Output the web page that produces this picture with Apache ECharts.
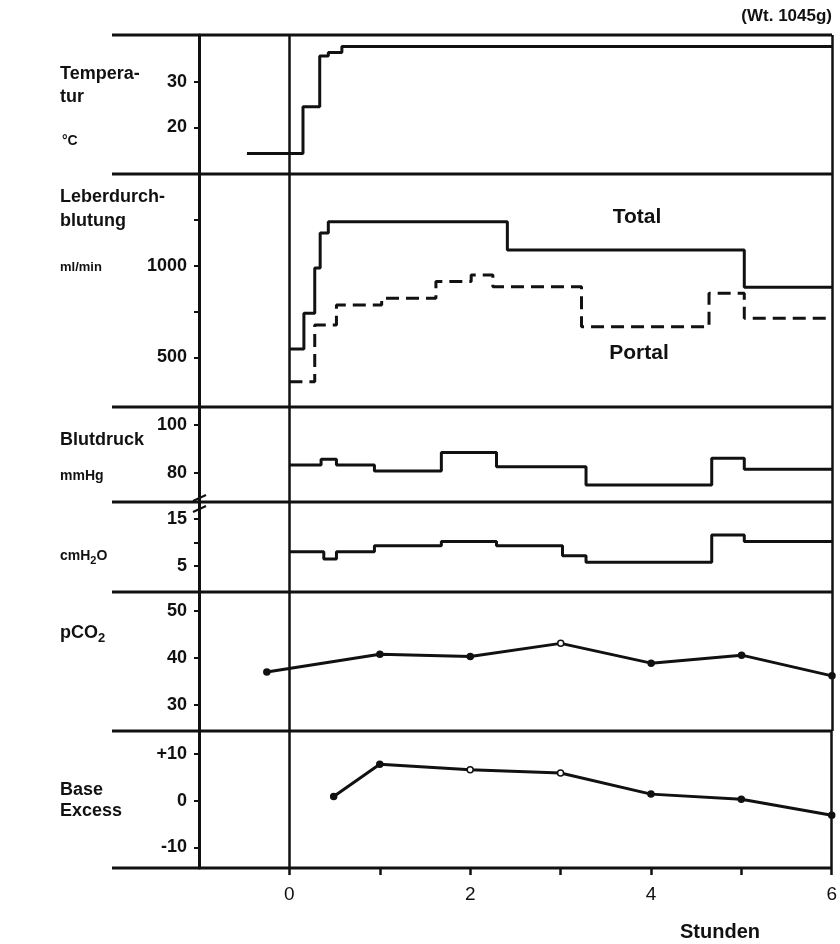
<!DOCTYPE html>
<html>
<head>
<meta charset="utf-8">
<script src="https://cdn.jsdelivr.net/npm/echarts@6/dist/echarts.min.js"></script>
<style>
  html, body { margin: 0; padding: 0; background: #fff; }
  #chart { width: 840px; height: 944px; }
</style>
</head>
<body>
<div id="chart"></div>
<script>
// Zeit in Stunden, Werte je Messgröße
const tempHours = [-0.47, 0.15, 0.335, 0.43, 0.58, 6]
const tempValues = [14.3, 24.5, 35.6, 36.4, 37.7, 37.7]

const totalHours = [0, 0.16, 0.28, 0.34, 0.43, 2.41, 5.03, 6]
const totalValues = [545, 740, 987, 1178, 1240, 1086, 882, 882]

const portalHours = [0, 0.28, 0.52, 1.02, 1.62, 2.01, 2.25, 3.23, 4.64, 5.03, 6]
const portalValues = [367, 676, 785, 822, 913, 949, 885, 667, 849, 713, 713]

const bpHours = [0, 0.35, 0.52, 0.94, 1.68, 2.29, 3.28, 4.67, 5.03, 6]
const bpValues = [83.2, 85.6, 83.2, 80.7, 88.4, 82.5, 74.8, 86.0, 81.4, 81.4]

const cvpHours = [0, 0.38, 0.52, 0.94, 1.68, 2.29, 3.02, 3.28, 4.67, 5.03, 6]
const cvpValues = [8.0, 6.5, 8.0, 9.3, 10.2, 9.3, 7.2, 5.8, 11.6, 10.2, 10.2]

const pco2Hours = [-0.25, 1, 2, 3, 4, 5, 6]
const pco2Values = [37.0, 40.8, 40.3, 43.1, 38.9, 40.6, 36.2]

const beHours = [0.49, 1, 2, 3, 4, 5, 6]
const beValues = [0.9, 7.8, 6.6, 5.9, 1.4, 0.3, -3.1]

// Achsenbeschriftung
const xTickValues = [0, 1, 2, 3, 4, 5, 6]
const xLabelValues = [0, 2, 4, 6]
const tempTicks = [20, 30]
const flowTicks = [500, 750, 1000, 1250]
const flowLabels = [500, 1000]
const bpTicks = [80, 100]
const cvpTicks = [5, 10, 15]
const cvpLabels = [5, 15]
const pco2Ticks = [30, 40, 50]
const beTicks = [-10, 0, 10]

const ink = '#111'
const font = 'Liberation Sans'
const zip = (xs, ys) => xs.map((x, i) => [x, ys[i]])

// Panels: top / height in px, y-range
const panels = [
  { top: 35, height: 139, min: 9.8, max: 40.2, ticks: tempTicks, labels: tempTicks },
  { top: 174, height: 233, min: 229, max: 1500, ticks: flowTicks, labels: flowLabels },
  { top: 407, height: 95, min: 67.7, max: 107.5, ticks: bpTicks, labels: bpTicks },
  { top: 502, height: 90, min: -0.53, max: 18.6, ticks: cvpTicks, labels: cvpLabels },
  { top: 592, height: 139, min: 24.5, max: 54.0, ticks: pco2Ticks, labels: pco2Ticks },
  { top: 731, height: 137, min: -14.4, max: 14.9, ticks: beTicks, labels: beTicks }
]

const chart = echarts.init(document.getElementById('chart'))

const grids = panels.map(p => ({ left: 199, right: 8, top: p.top, height: p.height }))

const xAxes = panels.map((p, i) => {
  const last = i === panels.length - 1
  return {
    gridIndex: i,
    type: 'value',
    position: 'bottom',
    min: -1,
    max: 6,
    axisLine: { show: false, onZero: false },
    splitLine: { show: false },
    axisTick: last
      ? { show: true, customValues: xTickValues, length: 7, lineStyle: { color: ink, width: 2.5 } }
      : { show: false },
    axisLabel: last
      ? { show: true, customValues: xLabelValues, margin: 17, fontSize: 19, fontFamily: font, color: ink }
      : { show: false }
  }
})

const yAxes = panels.map((p, i) => ({
  gridIndex: i,
  type: 'value',
  position: 'left',
  min: p.min,
  max: p.max,
  splitLine: { show: false },
  axisLine: { show: true, onZero: false, lineStyle: { color: ink, width: 3 } },
  axisTick: { show: true, customValues: p.ticks, length: 5, lineStyle: { color: ink, width: 2 } },
  axisLabel: {
    show: true,
    customValues: p.labels,
    margin: 12,
    fontSize: 18,
    fontFamily: font,
    fontWeight: 'bold',
    color: ink,
    padding: [0, 0, 9, 0],
    formatter: v => (i === 5 && v > 0 ? '+' + v : String(v))
  }
}))

// Senkrechte bei 0 h und Rahmen bei 6 h
const frameMarks = {
  silent: true,
  symbol: 'none',
  label: { show: false },
  lineStyle: { color: ink, width: 2.5, type: 'solid' },
  data: [{ xAxis: 0 }, { xAxis: 6 }]
}

const stepLine = (idx, hours, values, dashed) => ({
  type: 'line',
  xAxisIndex: idx,
  yAxisIndex: idx,
  step: 'end',
  symbol: 'none',
  data: zip(hours, values),
  lineStyle: { color: ink, width: 3, type: dashed ? [13, 7] : 'solid' },
  z: 3
})

const openPco2 = [3]
const openBe = [2, 3]
const dotLine = (idx, hours, values, open) => ({
  type: 'line',
  xAxisIndex: idx,
  yAxisIndex: idx,
  symbol: 'circle',
  symbolSize: 6,
  data: zip(hours, values).map(d => ({
    value: d,
    itemStyle: { color: open.includes(d[0]) ? '#fff' : ink, borderColor: ink, borderWidth: 1.5 }
  })),
  lineStyle: { color: ink, width: 3 },
  z: 3
})

const series = [
  { ...stepLine(0, tempHours, tempValues, false), markLine: frameMarks },
  { ...stepLine(1, totalHours, totalValues, false), markLine: frameMarks },
  stepLine(1, portalHours, portalValues, true),
  { ...stepLine(2, bpHours, bpValues, false), markLine: frameMarks },
  { ...stepLine(3, cvpHours, cvpValues, false), markLine: frameMarks },
  { ...dotLine(4, pco2Hours, pco2Values, openPco2), markLine: frameMarks },
  { ...dotLine(5, beHours, beValues, openBe), markLine: frameMarks }
]

// Trennlinien zwischen den Feldern
const sepYs = panels.map(p => p.top).concat([868])
const separators = sepYs.map(y => ({
  type: 'line',
  shape: { x1: 112, y1: y, x2: 832, y2: y },
  style: { stroke: ink, lineWidth: 3 },
  z: 10
}))

const txt = (text, x, y, size, extra) => ({
  type: 'text',
  x: x,
  y: y,
  style: Object.assign({
    text: text,
    fontSize: size,
    fontFamily: font,
    fontWeight: 'bold',
    fill: ink,
    verticalAlign: 'middle'
  }, extra || {}),
  z: 10
})

const sub = { sub: { fontSize: 11, fontFamily: font, fontWeight: 'bold', fill: ink, padding: [9, 0, 0, 0] } }
const subBig = { sub: { fontSize: 13, fontFamily: font, fontWeight: 'bold', fill: ink, padding: [11, 0, 0, 0] } }

const labels = [
  txt('Tempera-', 60, 74, 18),
  txt('tur', 60, 97, 18),
  txt('°C', 62, 141, 14),
  txt('Leberdurch-', 60, 197, 18),
  txt('blutung', 60, 221, 18),
  txt('ml/min', 60, 267, 13),
  txt('Blutdruck', 60, 440, 18),
  txt('mmHg', 60, 476, 14),
  txt('cmH{sub|2}O', 60, 556, 14, { rich: sub }),
  txt('pCO{sub|2}', 60, 633, 18, { rich: subBig }),
  txt('Base', 60, 790, 18),
  txt('Excess', 60, 811, 18),
  txt('(Wt. 1045g)', 832, 16, 17, { align: 'right' }),
  txt('Total', 637, 217, 21, { align: 'center' }),
  txt('Portal', 639, 353, 21, { align: 'center' }),
  txt('Stunden', 720, 932, 20, { align: 'center' })
]

// Achsenbruch zwischen mmHg und cmH2O
const breakMarks = [
  { type: 'line', shape: { x1: 193, y1: 501, x2: 206, y2: 495 }, style: { stroke: ink, lineWidth: 2 }, z: 10 },
  { type: 'line', shape: { x1: 193, y1: 512, x2: 206, y2: 506 }, style: { stroke: ink, lineWidth: 2 }, z: 10 }
]

chart.setOption({
  animation: false,
  backgroundColor: '#fff',
  grid: grids,
  xAxis: xAxes,
  yAxis: yAxes,
  series: series,
  graphic: separators.concat(labels, breakMarks)
})
</script>
</body>
</html>
